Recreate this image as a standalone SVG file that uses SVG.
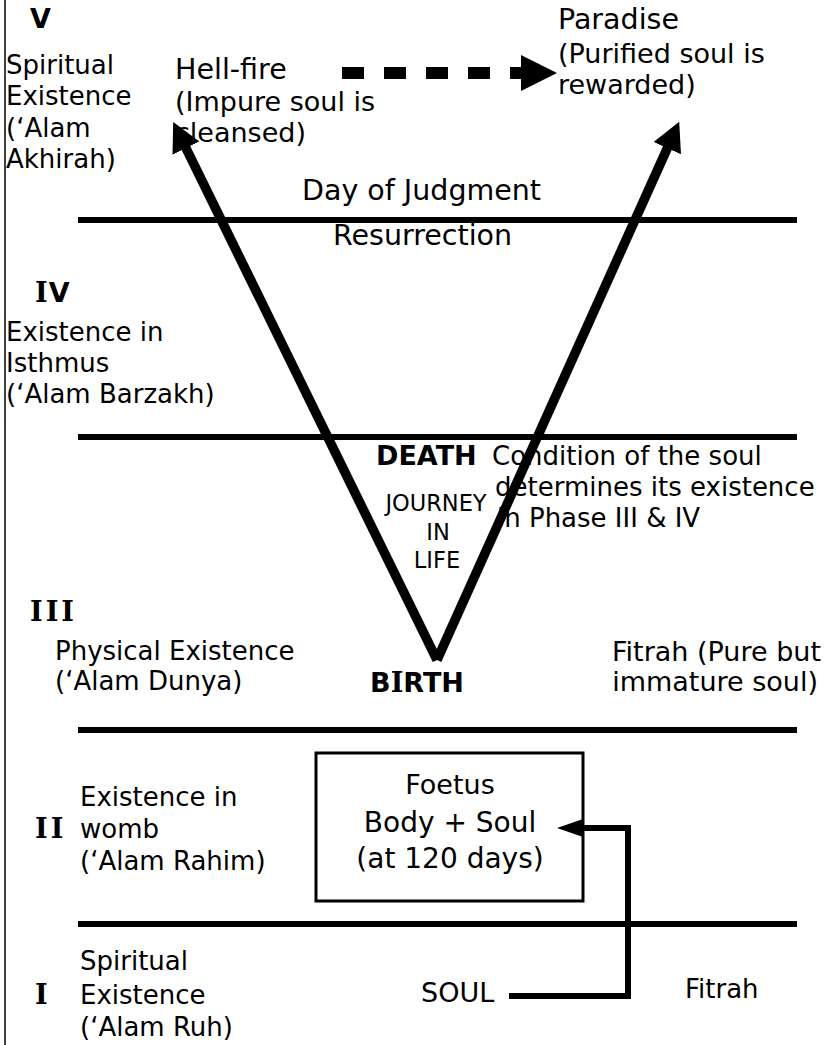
<svg xmlns="http://www.w3.org/2000/svg" width="827" height="1045" viewBox="0 0 827 1045">
<style>
text{font-family:"DejaVu Sans","Verdana",sans-serif;font-size:26px;fill:#000}
.b{font-weight:bold;font-size:27px}
.rs{font-family:"DejaVu Serif","Liberation Serif",serif;font-weight:bold}
.big{font-size:28.5px}
.m{font-size:27px}
.box{font-size:28px}
.sm{font-size:22.5px}
.c{text-anchor:middle}
.bar{stroke:#000;stroke-width:6;fill:none}
.arm{stroke:#000;stroke-width:9.5;fill:none}
</style>
<defs>
<marker id="headV" markerUnits="userSpaceOnUse" markerWidth="32" markerHeight="32" viewBox="0 0 32 32" refX="9" refY="16" orient="auto">
<path d="M0,1 L29,16 L0,31 z" fill="#000"/>
</marker>
<marker id="headD" markerUnits="userSpaceOnUse" markerWidth="38" markerHeight="38" viewBox="0 0 38 38" refX="3" refY="19" orient="auto">
<path d="M0,1 L36,19 L0,37 z" fill="#000"/>
</marker>
<marker id="headS" markerUnits="userSpaceOnUse" markerWidth="28" markerHeight="22" viewBox="0 0 28 22" refX="0" refY="11" orient="auto">
<path d="M0,2 L26,11 L0,20 z" fill="#000"/>
</marker>
</defs>
<line x1="5" y1="0" x2="5" y2="1045" stroke="#000" stroke-width="1.5"/>
<g id="phase-lines">
<line class="bar" x1="78" y1="220" x2="797" y2="220"/>
<line class="bar" x1="78" y1="437" x2="797" y2="437"/>
<line class="bar" x1="78" y1="730" x2="797" y2="730"/>
<line class="bar" x1="78" y1="924" x2="797" y2="924"/>
</g>
<g id="phase-V">
<text class="b" x="30" y="28">V</text>
<text x="6" y="74">Spiritual</text>
<text x="6" y="105">Existence</text>
<text x="6" y="137">(‘Alam</text>
<text x="6" y="168">Akhirah)</text>
</g>
<g id="hellfire">
<text class="big" x="175" y="79">Hell-fire</text>
<text class="m" x="175" y="111">(Impure soul is</text>
<text class="m" x="175" y="142">cleansed)</text>
</g>
<g id="paradise">
<text class="big" x="558" y="29">Paradise</text>
<text class="m" x="558" y="63">(Purified soul is</text>
<text class="m" x="558" y="94">rewarded)</text>
</g>
<g id="judgment">
<text class="big" x="302" y="200">Day of Judgment</text>
<text class="big" x="333" y="245">Resurrection</text>
</g>
<g id="phase-IV">
<text class="b" x="35" y="302"><tspan class="rs">I</tspan><tspan dx="1">V</tspan></text>
<text x="6" y="341">Existence in</text>
<text x="6" y="372">Isthmus</text>
<text x="6" y="403">(‘Alam Barzakh)</text>
</g>
<g id="death">
<text class="b" x="376" y="465">DEATH</text>
</g>
<g id="condition">
<text x="492" y="465">Condition of the soul</text>
<text x="495" y="496">determines its existence</text>
<text x="497" y="527">in Phase III &amp; IV</text>
</g>
<g id="journey">
<text class="sm c" x="436" y="511">JOURNEY</text>
<text class="sm c" x="438" y="540">IN</text>
<text class="sm c" x="437" y="568">LIFE</text>
</g>
<g id="phase-III">
<text class="b rs" x="30" y="621" letter-spacing="3">III</text>
<text x="55" y="660">Physical Existence</text>
<text x="55" y="690">(‘Alam Dunya)</text>
</g>
<g id="birth">
<text class="b c" x="417" y="692" font-size="28">B<tspan class="rs">I</tspan>RTH</text>
</g>
<g id="fitrah-III">
<text class="m" x="821" y="661" text-anchor="end">Fitrah (Pure but</text>
<text class="m" x="818" y="691" text-anchor="end">immature soul)</text>
</g>
<g id="phase-II">
<text x="80" y="806">Existence in</text>
<text class="b rs" x="35" y="838" letter-spacing="3">II</text>
<text x="80" y="838">womb</text>
<text x="80" y="870">(‘Alam Rahim)</text>
</g>
<g id="foetus">
<rect x="316" y="753" width="267" height="148" fill="#fff" stroke="#000" stroke-width="3"/>
<text class="c m" x="450" y="794">Foetus</text>
<text class="c box" x="450" y="832">Body + Soul</text>
<text class="c box" x="450" y="868">(at 120 days)</text>
</g>
<g id="phase-I">
<text x="80" y="970">Spiritual</text>
<text class="b rs" x="35" y="1004">I</text>
<text x="80" y="1004">Existence</text>
<text x="80" y="1036">(‘Alam Ruh)</text>
</g>
<g id="soul">
<text class="m" x="421" y="1002">SOUL</text>
</g>
<g id="fitrah-I">
<text x="685" y="998">Fitrah</text>
</g>
<g id="connectors">
<line class="arm" x1="437" y1="660" x2="182" y2="140" marker-end="url(#headV)"/>
<line class="arm" x1="437" y1="660" x2="671" y2="140" marker-end="url(#headV)"/>
<line x1="342" y1="73" x2="524" y2="73" stroke="#000" stroke-width="12" stroke-dasharray="22 20" marker-end="url(#headD)"/>
<polyline class="bar" points="509,996 628,996 628,828 583,828" stroke-linejoin="miter" marker-end="url(#headS)"/>
</g>
</svg>
